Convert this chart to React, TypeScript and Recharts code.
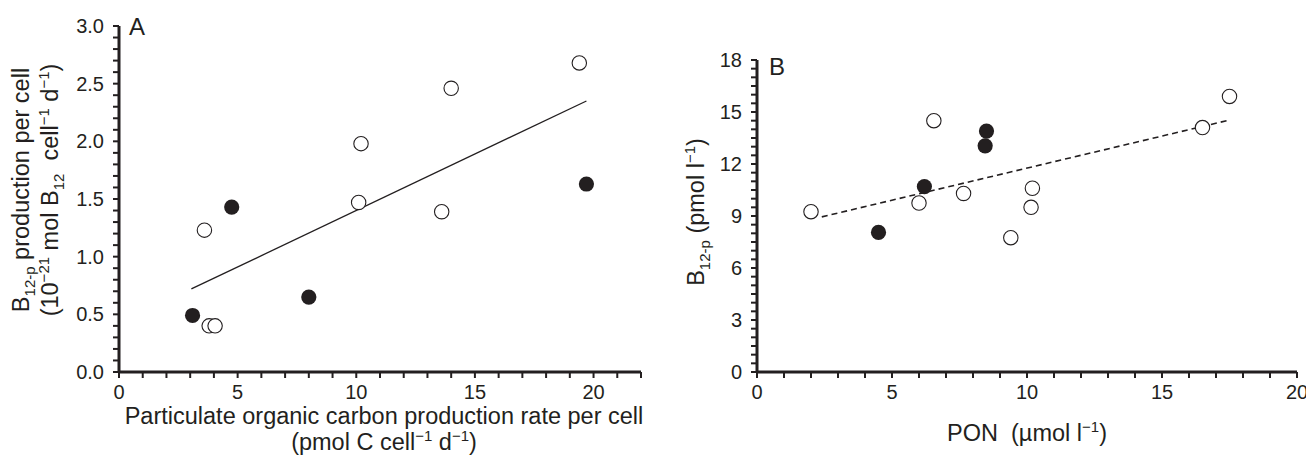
import React from 'react';
import {
  ScatterChart,
  Scatter,
  XAxis,
  YAxis,
  ReferenceLine,
  Text,
} from 'recharts';

// Panel A: B12-p production per cell vs POC production rate per cell
const openAx = [3.6, 3.8, 4.05, 10.1, 10.2, 13.6, 14.0, 19.4];
const openAy = [1.23, 0.4, 0.4, 1.47, 1.98, 1.39, 2.46, 2.68];
const filledAx = [3.1, 4.75, 8.0, 19.7];
const filledAy = [0.49, 1.43, 0.65, 1.63];
const fitAx = [3.05, 19.7];
const fitAy = [0.72, 2.35];

// Panel B: B12-p vs PON
const openBx = [2.0, 6.0, 6.55, 7.65, 9.4, 10.2, 10.15, 16.5, 17.5];
const openBy = [9.25, 9.75, 14.5, 10.3, 7.75, 10.6, 9.5, 14.1, 15.9];
const filledBx = [4.5, 6.2, 8.45, 8.5];
const filledBy = [8.05, 10.7, 13.05, 13.9];
const fitBx = [2.4, 17.4];
const fitBy = [8.95, 14.5];

// tick labels
const xLabelsA = [0, 5, 10, 15, 20];
const yLabelsA = [0, 0.5, 1.0, 1.5, 2.0, 2.5, 3.0];
const xLabelsB = [0, 5, 10, 15, 20];
const yLabelsB = [0, 3, 6, 9, 12, 15, 18];

const INK = '#231f20';
const FONT = '"Liberation Sans", Arial, Helvetica, sans-serif';
const TITLE = 23.5;

// minor tick positions (tick marks every step, labels only on the lists above)
const steps = (max: number, step: number) =>
  Array.from({ length: Math.round(max / step) + 1 }, (_, i) => Math.round(i * step * 100) / 100);

const xTicksA = steps(22, 1);
const yTicksA = steps(3, 0.1);
const xTicksB = steps(20, 1);
const yTicksB = steps(18, 0.5);

const zip = (xs: number[], ys: number[]) => xs.map((x, i) => ({ x, y: ys[i] }));

const OpenDot = (p: any) => (
  <circle cx={p.cx} cy={p.cy} r={7.2} fill="#fff" stroke={INK} strokeWidth={1.1} />
);
const FilledDot = (p: any) => <circle cx={p.cx} cy={p.cy} r={7.6} fill={INK} stroke="none" />;

const axisLine = { stroke: INK, strokeWidth: 3 };
const tickLine = { stroke: INK, strokeWidth: 2 };

// only the labelled ticks get a text; the rest are bare tick marks
const makeTick = (labels: number[], digits: number) => (p: any) => {
  const v = p.payload.value;
  if (!labels.some((l) => Math.abs(l - v) < 1e-6)) return <g />;
  return (
    <Text
      x={p.x}
      y={p.y}
      textAnchor={p.textAnchor}
      verticalAnchor={p.verticalAnchor}
      fill={INK}
      fontSize={20}
      fontFamily={FONT}
    >
      {v.toFixed(digits)}
    </Text>
  );
};

// text runs: [text, 'n' | 'sup' | 'sub']
type Seg = [string, 'n' | 'sup' | 'sub'];
const shift = { n: 0, sup: -9, sub: 6 };
const rich = (segs: Seg[]) => {
  let cur = 0;
  return segs.map(([t, k], i) => {
    const dy = shift[k] - cur;
    cur = shift[k];
    return (
      <tspan key={i} dy={dy || undefined} fontSize={k === 'n' ? undefined : 15}>
        {t}
      </tspan>
    );
  });
};

const yTitleA1: Seg[] = [['B', 'n'], ['12-p', 'sub'], [' production per cell', 'n']];
const yTitleA2: Seg[] = [
  ['(10', 'n'], ['−21', 'sup'], [' mol B', 'n'], ['12', 'sub'],
  ['\u00a0 cell', 'n'], ['−1', 'sup'], [' d', 'n'], ['−1', 'sup'], [')', 'n'],
];
const xTitleA1: Seg[] = [['Particulate organic carbon production rate per cell', 'n']];
const xTitleA2: Seg[] = [['(pmol C cell', 'n'], ['−1', 'sup'], [' d', 'n'], ['−1', 'sup'], [')', 'n']];
const yTitleB: Seg[] = [['B', 'n'], ['12-p', 'sub'], [' (pmol l', 'n'], ['−1', 'sup'], [')', 'n']];
const xTitleB: Seg[] = [['PON\u00a0\u00a0(µmol l', 'n'], ['−1', 'sup'], [')', 'n']];

function PanelA() {
  return (
    <ScatterChart
      width={660}
      height={463}
      margin={{ top: 26, right: 19, left: 0, bottom: 0 }}
      style={{ position: 'absolute', left: 0, top: 0 }}
    >
      <XAxis
        type="number"
        dataKey="x"
        domain={[0, 22]}
        ticks={xTicksA}
        interval={0}
        height={91}
        tick={makeTick(xLabelsA, 0)}
        tickSize={6}
        tickMargin={7}
        axisLine={axisLine}
        tickLine={tickLine}
        label={{
          content: ({ viewBox }: any) => (
            <g fontFamily={FONT} fontSize={TITLE} fill={INK}>
              <text x={viewBox.x + viewBox.width / 2 + 4} y={viewBox.y + 52} textAnchor="middle">
                {rich(xTitleA1)}
              </text>
              <text x={viewBox.x + viewBox.width / 2 + 4} y={viewBox.y + 78} textAnchor="middle">
                {rich(xTitleA2)}
              </text>
            </g>
          ),
        }}
      />
      <YAxis
        type="number"
        dataKey="y"
        domain={[0, 3]}
        ticks={yTicksA}
        interval={0}
        width={119}
        tick={makeTick(yLabelsA, 1)}
        tickSize={6}
        tickMargin={9}
        axisLine={axisLine}
        tickLine={tickLine}
        label={{
          content: () => {
            const cy = 190;
            return (
              <g fontFamily={FONT} fontSize={TITLE} fill={INK}>
                <text x={29} y={cy} textAnchor="middle" transform={`rotate(-90, 29, ${cy})`}>
                  {rich(yTitleA1)}
                </text>
                <text x={58} y={cy} textAnchor="middle" transform={`rotate(-90, 58, ${cy})`}>
                  {rich(yTitleA2)}
                </text>
                <text x={129} y={35} fontSize={24}>A</text>
              </g>
            );
          },
        }}
      />
      <ReferenceLine segment={zip(fitAx, fitAy)} stroke={INK} strokeWidth={1.3} />
      <Scatter data={zip(openAx, openAy)} shape={OpenDot} isAnimationActive={false} />
      <Scatter data={zip(filledAx, filledAy)} shape={FilledDot} isAnimationActive={false} />
    </ScatterChart>
  );
}

function PanelB() {
  return (
    <ScatterChart
      width={654}
      height={463}
      margin={{ top: 60, right: 17, left: 0, bottom: 0 }}
      style={{ position: 'absolute', left: 660, top: 0 }}
    >
      <XAxis
        type="number"
        dataKey="x"
        domain={[0, 20]}
        ticks={xTicksB}
        interval={0}
        height={91}
        tick={makeTick(xLabelsB, 0)}
        tickSize={6}
        tickMargin={7}
        axisLine={axisLine}
        tickLine={tickLine}
        label={{
          content: ({ viewBox }: any) => (
            <text
              x={viewBox.x + viewBox.width / 2}
              y={viewBox.y + 69}
              textAnchor="middle"
              fontFamily={FONT}
              fontSize={TITLE}
              fill={INK}
            >
              {rich(xTitleB)}
            </text>
          ),
        }}
      />
      <YAxis
        type="number"
        dataKey="y"
        domain={[0, 18]}
        ticks={yTicksB}
        interval={0}
        width={97}
        tick={makeTick(yLabelsB, 0)}
        tickSize={6}
        tickMargin={9}
        axisLine={axisLine}
        tickLine={tickLine}
        label={{
          content: () => {
            const cy = 212;
            return (
              <g fontFamily={FONT} fontSize={TITLE} fill={INK}>
                <text x={44} y={cy} textAnchor="middle" transform={`rotate(-90, 44, ${cy})`}>
                  {rich(yTitleB)}
                </text>
                <text x={109} y={75} fontSize={24}>B</text>
              </g>
            );
          },
        }}
      />
      <ReferenceLine
        segment={zip(fitBx, fitBy)}
        stroke={INK}
        strokeWidth={1.6}
        strokeDasharray="6 4"
      />
      <Scatter data={zip(openBx, openBy)} shape={OpenDot} isAnimationActive={false} />
      <Scatter data={zip(filledBx, filledBy)} shape={FilledDot} isAnimationActive={false} />
    </ScatterChart>
  );
}

export default function App() {
  return (
    <div style={{ position: 'relative', width: 1314, height: 463, margin: -8, background: '#fff' }}>
      <PanelA />
      <PanelB />
    </div>
  );
}
